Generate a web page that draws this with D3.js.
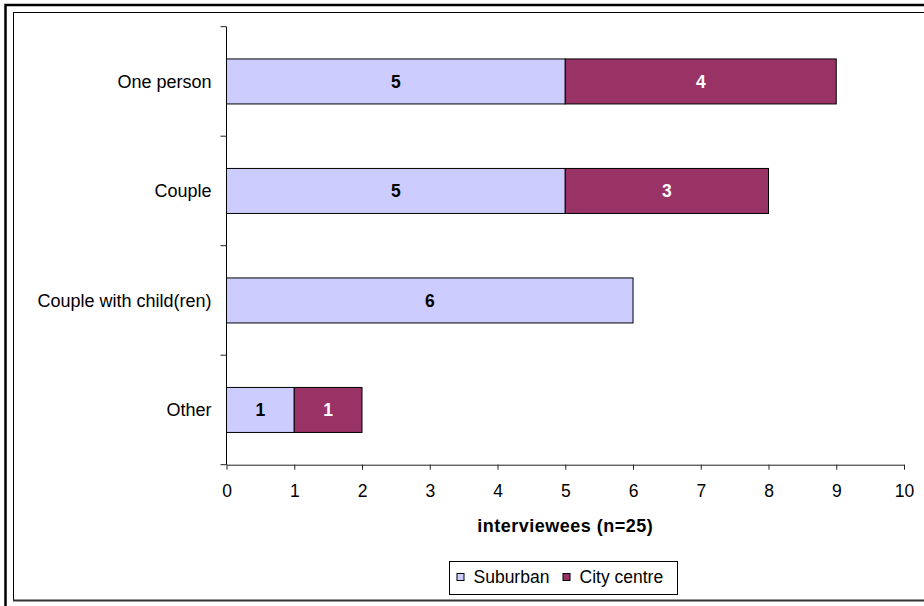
<!DOCTYPE html>
<html>
<head>
<meta charset="utf-8">
<script src="https://cdn.jsdelivr.net/npm/d3@7"></script>
<style>
  html, body { margin: 0; padding: 0; background: #fff; }
  svg { display: block; font-family: Arial, "Liberation Sans", sans-serif; }
</style>
</head>
<body>
<svg id="chart" width="924" height="606"></svg>
<script>
const categories = ["One person", "Couple", "Couple with child(ren)", "Other"];
const seriesNames = ["Suburban", "City centre"];
const suburban = [5, 5, 6, 1];
const cityCentre = [4, 3, 0, 1];
const xTicks = [0, 1, 2, 3, 4, 5, 6, 7, 8, 9, 10];
const axisTitle = "interviewees (n=25)";
const colors = ["#CCCCFF", "#993366"];
const labelColors = ["#000", "#fff"];

(function () {
const svg = d3.select("#chart");
const FONT = "Arial, 'Liberation Sans', sans-serif";

// Outer frames
svg.append("rect").attr("x", 5.5).attr("y", 5).attr("width", 930).attr("height", 620)
  .attr("fill", "none").attr("stroke", "#000").attr("stroke-width", 2.5);
svg.append("rect").attr("x", 13.5).attr("y", 12.5).attr("width", 930).attr("height", 588)
  .attr("fill", "none").attr("stroke", "#000").attr("stroke-width", 1);
svg.append("line").attr("x1", 13).attr("x2", 924).attr("y1", 600.5).attr("y2", 600.5)
  .attr("stroke", "#333").attr("stroke-width", 2);

const pLeft = 226.5, pRight = 904, pTop = 26.7, pBottom = 464.7;

const x = d3.scaleLinear().domain([0, 10]).range([pLeft, pRight]);
const y = d3.scaleBand().domain(categories).range([pTop, pBottom]).paddingInner(0).paddingOuter(0);
const barH = 45;

const rows = categories.map((c, i) => ({ cat: c, vals: [suburban[i], cityCentre[i]] }));

const g = svg.append("g");
rows.forEach(r => {
  let acc = 0;
  r.vals.forEach((v, si) => {
    if (v <= 0) return;
    const x0 = x(acc), x1 = x(acc + v);
    const yc = y(r.cat) + y.bandwidth() / 2;
    g.append("rect")
      .attr("x", x0).attr("y", yc - barH / 2)
      .attr("width", x1 - x0).attr("height", barH)
      .attr("fill", colors[si]).attr("stroke", "#000").attr("stroke-width", 1);
    g.append("text")
      .attr("x", (x0 + x1) / 2).attr("y", yc + 6.5)
      .attr("text-anchor", "middle")
      .attr("font-size", 17.5).attr("font-weight", "bold")
      .attr("fill", labelColors[si]).text(v);
    acc += v;
  });
});

// X axis
const xAxis = d3.axisBottom(x).tickValues(xTicks).tickSize(5).tickPadding(15).tickSizeOuter(0);
const gx = svg.append("g").attr("transform", `translate(0,${pBottom})`).call(xAxis);
gx.select(".domain").attr("stroke", "#222");
gx.selectAll(".tick line").attr("stroke", "#222");
gx.selectAll(".tick text").attr("font-size", 17.5).attr("fill", "#000")
  .attr("font-family", FONT);

// Y axis line and ticks at band boundaries
svg.append("line").attr("x1", pLeft).attr("x2", pLeft).attr("y1", pTop).attr("y2", pBottom)
  .attr("stroke", "#000").attr("stroke-width", 1);
const bounds = categories.map(c => y(c)).concat([pBottom]);
svg.selectAll(".ytick").data(bounds).enter().append("line")
  .attr("x1", pLeft - 6).attr("x2", pLeft).attr("y1", d => d).attr("y2", d => d)
  .attr("stroke", "#222");
svg.selectAll(".ylab").data(categories).enter().append("text")
  .attr("x", 211.5).attr("y", d => y(d) + y.bandwidth() / 2 + 6.5)
  .attr("text-anchor", "end").attr("font-size", 18).attr("fill", "#000").text(d => d);

// Axis title
svg.append("text").attr("x", (pLeft + pRight) / 2).attr("y", 531.5)
  .attr("text-anchor", "middle").attr("font-size", 18).attr("font-weight", "bold")
  .attr("letter-spacing", 0.5)
  .text(axisTitle);

// Legend
const lg = svg.append("g");
lg.append("rect").attr("x", 449.5).attr("y", 561.5).attr("width", 228).attr("height", 33)
  .attr("fill", "#fff").attr("stroke", "#000").attr("stroke-width", 1);
const legX = [456.5, 562.5];
seriesNames.forEach((n, i) => {
  lg.append("rect").attr("x", legX[i] + 0.5).attr("y", 573.5).attr("width", 7).attr("height", 7)
    .attr("fill", colors[i]).attr("stroke", "#000").attr("stroke-width", 1);
  lg.append("text").attr("x", legX[i] + 17).attr("y", 582.5)
    .attr("font-size", 17.5).attr("fill", "#000").text(n);
});
})();
</script>
</body>
</html>
